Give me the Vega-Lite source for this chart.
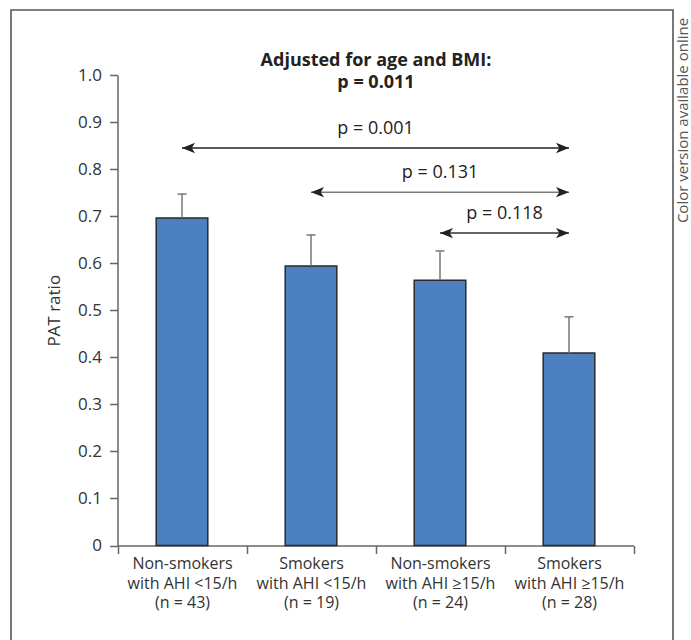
{
  "$schema": "https://vega.github.io/schema/vega-lite/v6.json",
  "width": 662,
  "height": 640,
  "autosize": {"type": "none"},
  "padding": {"left": 11, "top": 10, "right": 18, "bottom": 0},
  "background": "white",
  "config": {
    "font": "Open Sans",
    "view": {"stroke": "#555555", "strokeWidth": 1.6, "fill": "white"}
  },
  "title": {
    "text": ["Adjusted for age and BMI:", "p = 0.011"],
    "anchor": "middle",
    "frame": "group",
    "dx": 34,
    "offset": -82,
    "fontSize": 18,
    "fontWeight": "bold",
    "lineHeight": 22,
    "color": "#222222",
    "font": "Open Sans"
  },
  "datasets": {
    "groups": [
      {"group": "Non-smokers|with AHI <15/h|(n = 43)", "pat": 0.696, "upper": 0.747},
      {"group": "Smokers|with AHI <15/h|(n = 19)", "pat": 0.594, "upper": 0.66},
      {"group": "Non-smokers|with AHI ≥15/h|(n = 24)", "pat": 0.564, "upper": 0.626},
      {"group": "Smokers|with AHI ≥15/h|(n = 28)", "pat": 0.409, "upper": 0.486}
    ],
    "comparisons": [
      {"p": "p = 0.001", "from": "Non-smokers|with AHI <15/h|(n = 43)", "to": "Smokers|with AHI ≥15/h|(n = 28)", "label_at": "Non-smokers|with AHI ≥15/h|(n = 24)", "level": 0.845},
      {"p": "p = 0.131", "from": "Smokers|with AHI <15/h|(n = 19)", "to": "Smokers|with AHI ≥15/h|(n = 28)", "label_at": "Non-smokers|with AHI ≥15/h|(n = 24)", "level": 0.751},
      {"p": "p = 0.118", "from": "Non-smokers|with AHI ≥15/h|(n = 24)", "to": "Smokers|with AHI ≥15/h|(n = 28)", "label_at": "Smokers|with AHI ≥15/h|(n = 28)", "level": 0.664}
    ]
  },
  "layer": [
    {
      "data": {"name": "groups"},
      "mark": {"type": "bar", "width": {"band": 0.4}, "fill": "#4d80c0", "stroke": "#2a2a2a", "strokeWidth": 1.5},
      "encoding": {
        "x": {
          "field": "group", "type": "nominal", "sort": null, "title": null,
          "scale": {
            "domain": ["Non-smokers|with AHI <15/h|(n = 43)", "Smokers|with AHI <15/h|(n = 19)", "Non-smokers|with AHI ≥15/h|(n = 24)", "Smokers|with AHI ≥15/h|(n = 28)"],
            "range": [106.5, 622.5], "paddingInner": 0, "paddingOuter": 0
          },
          "axis": {
            "orient": "bottom", "offset": -104.5, "tickBand": "extent",
            "labelExpr": "split(datum.label, '|')",
            "labelFontSize": 16, "labelLineHeight": 19.5, "labelPadding": 2, "labelColor": "#333333",
            "labelAngle": 0, "labelOverlap": false, "labelLimit": 300,
            "tickSize": 8, "tickColor": "#666666", "tickWidth": 1.5,
            "domainColor": "#666666", "domainWidth": 1.5, "grid": false, "title": null
          }
        },
        "y": {
          "field": "pat", "type": "quantitative",
          "scale": {"domain": [0, 1], "range": [535.5, 65], "nice": false, "zero": true},
          "axis": {
            "orient": "left", "offset": -106.5,
            "values": [0, 0.1, 0.2, 0.3, 0.4, 0.5, 0.6, 0.7, 0.8, 0.9, 1.0],
            "labelExpr": "datum.value == 0 ? '0' : format(datum.value, '.1f')",
            "labelFontSize": 17, "labelColor": "#333333", "labelPadding": 8,
            "tickSize": 8, "tickColor": "#666666", "tickWidth": 1.5,
            "domainColor": "#666666", "domainWidth": 1.5, "grid": false,
            "title": "PAT ratio", "titleFontSize": 17, "titleFontWeight": "normal", "titleColor": "#333333",
            "titleX": -63.5, "titleBaseline": "middle"
          }
        }
      }
    },
    {
      "data": {"name": "groups"},
      "mark": {"type": "rule", "stroke": "#777777", "strokeWidth": 1.5},
      "encoding": {
        "x": {"field": "group", "type": "nominal", "sort": null, "title": null},
        "y": {
          "field": "pat", "type": "quantitative",
          "axis": {
            "orient": "right", "domain": false, "ticks": false, "labels": false, "grid": false,
            "title": "Color version available online", "titleAngle": 270, "titleFontSize": 15,
            "titleFontWeight": "normal", "titleColor": "#555555",
            "titleX": 9, "titleY": 110, "titleAlign": "center", "titleBaseline": "middle"
          }
        },
        "y2": {"field": "upper"}
      }
    },
    {
      "data": {"name": "groups"},
      "mark": {"type": "tick", "color": "#777777", "size": 9, "thickness": 1.5, "opacity": 1},
      "encoding": {
        "x": {"field": "group", "type": "nominal", "sort": null, "title": null},
        "y": {"field": "upper", "type": "quantitative", "axis": null}
      }
    },
    {
      "data": {"name": "comparisons"},
      "mark": {"type": "rule", "strokeWidth": 1.5},
      "encoding": {
        "x": {"field": "from", "type": "nominal", "sort": null, "title": null, "bandPosition": 0.5},
        "x2": {"field": "to", "bandPosition": 0.5},
        "y": {"field": "level", "type": "quantitative", "axis": null},
        "color": {
          "field": "p", "type": "nominal", "legend": null,
          "scale": {"domain": ["p = 0.001", "p = 0.131", "p = 0.118"], "range": ["#222222", "#7a7a7a", "#333333"]}
        }
      }
    },
    {
      "data": {"name": "comparisons"},
      "mark": {"type": "point", "shape": "M0,0 L2,-0.8 L1.5,0 L2,0.8 Z", "filled": true, "size": 169, "color": "#222222", "opacity": 1, "strokeWidth": 0},
      "encoding": {
        "x": {"field": "from", "type": "nominal", "sort": null, "title": null},
        "y": {"field": "level", "type": "quantitative", "axis": null}
      }
    },
    {
      "data": {"name": "comparisons"},
      "mark": {"type": "point", "shape": "M0,0 L-2,-0.8 L-1.5,0 L-2,0.8 Z", "filled": true, "size": 169, "color": "#222222", "opacity": 1, "strokeWidth": 0},
      "encoding": {
        "x": {"field": "to", "type": "nominal", "sort": null, "title": null},
        "y": {"field": "level", "type": "quantitative", "axis": null}
      }
    },
    {
      "data": {"name": "comparisons"},
      "transform": [{"filter": "datum.p != 'p = 0.131'"}],
      "mark": {"type": "text", "fontSize": 18, "color": "#222222", "baseline": "middle", "align": "center", "dy": -19},
      "encoding": {
        "x": {"field": "label_at", "type": "nominal", "sort": null, "title": null, "bandPosition": 0},
        "y": {"field": "level", "type": "quantitative", "axis": null},
        "text": {"field": "p"}
      }
    },
    {
      "data": {"name": "comparisons"},
      "transform": [{"filter": "datum.p == 'p = 0.131'"}],
      "mark": {"type": "text", "fontSize": 18, "color": "#222222", "baseline": "middle", "align": "center", "dy": -19},
      "encoding": {
        "x": {"field": "label_at", "type": "nominal", "sort": null, "title": null, "bandPosition": 0.5},
        "y": {"field": "level", "type": "quantitative", "axis": null},
        "text": {"field": "p"}
      }
    }
  ],
  "resolve": {"axis": {"y": "independent"}}
}
